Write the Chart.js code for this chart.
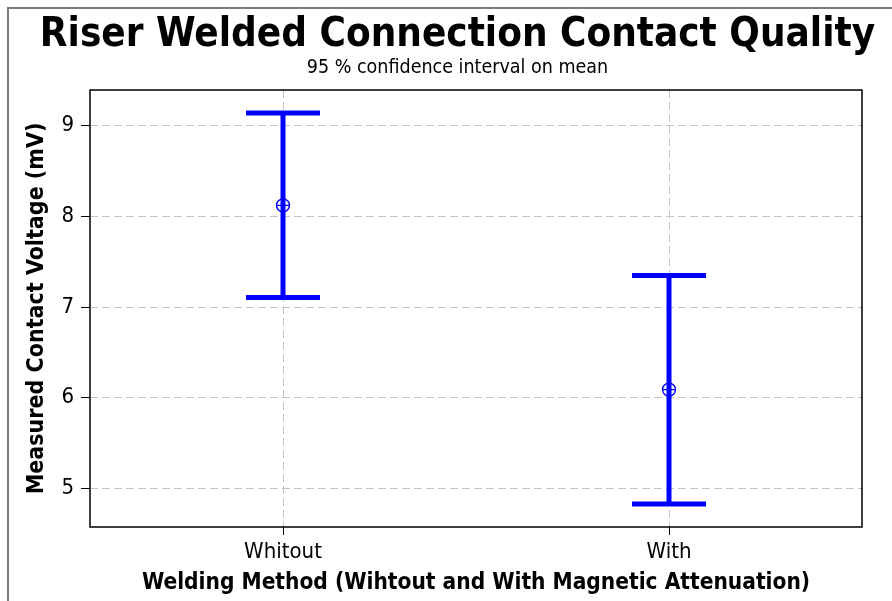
<!DOCTYPE html>
<html>
<head>
<meta charset="utf-8">
<script src="https://cdn.jsdelivr.net/npm/chart.js@4.4.1/dist/chart.umd.min.js"></script>
<style>
  html, body { margin: 0; padding: 0; background: #fff; overflow: hidden; }
  #frame { position: absolute; left: 7px; top: 7px; width: 1000px; height: 1000px; border-left: 2px solid #7c7c7c; border-top: 2px solid #7c7c7c; }
  #ciChart { position: absolute; left: 0; top: 0; }
</style>
</head>
<body>
<div id="frame"></div>
<canvas id="ciChart" width="892" height="601"></canvas>
<script>
const methods = ['Whitout', 'With'];
const meanVoltage = [8.12, 6.09];
const lowerCI = [7.105, 4.829];
const upperCI = [9.138, 7.347];
const yTicks = [5, 6, 7, 8, 9];
const yRange = [4.576, 9.391];

const FONT = "'DejaVu Sans Condensed', 'DejaVu Sans', sans-serif";
const BLUE = '#0000ff';

// error bars (CI) drawn under the mean markers, plus the plot frame
const errorBars = {
	id: 'errorBars',
	beforeDatasetsDraw(chart) {
		const ctx = chart.ctx;
		const xs = chart.scales.x;
		const ys = chart.scales.y;
		const a = chart.chartArea;
		ctx.save();
		ctx.strokeStyle = '#000';
		ctx.lineWidth = 1.5;
		ctx.strokeRect(a.left, a.top, a.right - a.left, a.bottom - a.top);
		ctx.strokeStyle = BLUE;
		ctx.lineWidth = 5;
		ctx.lineCap = 'butt';
		methods.forEach(function(m, i) {
			const px = xs.getPixelForValue(i);
			const top = ys.getPixelForValue(upperCI[i]);
			const bot = ys.getPixelForValue(lowerCI[i]);
			ctx.beginPath();
			ctx.moveTo(px, top);
			ctx.lineTo(px, bot);
			ctx.moveTo(px - 37, top);
			ctx.lineTo(px + 37, top);
			ctx.moveTo(px - 37, bot);
			ctx.lineTo(px + 37, bot);
			ctx.stroke();
		});
		ctx.restore();
	}
};

new Chart(document.getElementById('ciChart'), {
	type: 'line',
	data: {
		labels: methods,
		datasets: [{
			data: meanVoltage,
			showLine: false,
			pointStyle: 'circle',
			pointRadius: 6.5,
			pointBorderWidth: 1.4,
			pointBorderColor: BLUE,
			pointBackgroundColor: 'rgba(0,0,0,0)'
		}, {
			data: meanVoltage,
			showLine: false,
			pointStyle: 'cross',
			pointRadius: 6.5,
			pointBorderWidth: 1.4,
			pointBorderColor: BLUE
		}]
	},
	options: {
		responsive: false,
		animation: false,
		events: [],
		layout: { padding: { left: 23, right: 0, top: 0, bottom: 0 } },
		plugins: {
			legend: { display: false },
			tooltip: { enabled: false },
			title: {
				display: true,
				text: 'Riser Welded Connection Contact Quality',
				color: '#000',
				font: { family: FONT, size: 40, weight: 'bold', lineHeight: 1.0 },
				padding: { top: 16, bottom: 0 }
			},
			subtitle: {
				display: true,
				text: '95 % confidence interval on mean',
				color: '#000',
				font: { family: FONT, size: 19.5, lineHeight: 1.2 },
				padding: { top: 0.3, bottom: 10.3 }
			}
		},
		scales: {
			x: {
				type: 'category',
				offset: true,
				grid: { offset: false, color: '#c4c4c4', lineWidth: 1, tickColor: '#000', tickLength: 8 },
				border: { display: false, dash: [8, 4] },
				ticks: { color: '#000', font: { family: FONT, size: 22 }, padding: 4 },
				title: {
					display: true,
					text: 'Welding Method (Wihtout and With Magnetic Attenuation)',
					color: '#000',
					font: { family: FONT, size: 22.5, weight: 'bold', lineHeight: 1.2 },
					padding: { top: 0, bottom: 4.5 }
				},
				afterFit(scale) { scale.height = 74; }
			},
			y: {
				min: yRange[0],
				max: yRange[1],
				grid: { color: '#c4c4c4', lineWidth: 1, tickColor: '#000', tickLength: 9 },
				border: { display: false, dash: [8, 4] },
				ticks: { color: '#000', font: { family: FONT, size: 22 }, padding: 7 },
				afterBuildTicks(scale) { scale.ticks = yTicks.map(v => ({ value: v })); },
				title: {
					display: true,
					text: 'Measured Contact Voltage (mV)',
					color: '#000',
					font: { family: FONT, size: 23, weight: 'bold', lineHeight: 1.2 },
					padding: { top: 0.2, bottom: 0 }
				},
				afterFit(scale) { scale.width = 67; }
			},
			yR: {
				position: 'right',
				display: true,
				grid: { display: false },
				border: { display: false },
				ticks: { display: false },
				afterFit(scale) { scale.width = 30; }
			}
		}
	},
	plugins: [errorBars]
});
</script>
</body>
</html>
